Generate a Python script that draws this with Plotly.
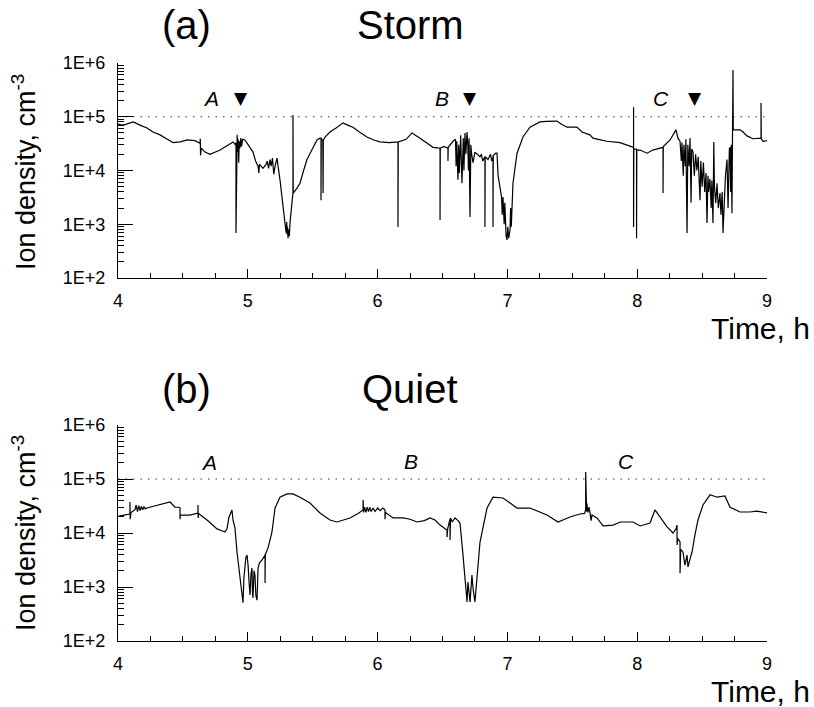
import plotly.graph_objects as go

# ---------------- data ----------------
storm_time = [
    4.000, 4.030, 4.060, 4.116, 4.170, 4.223, 4.270, 4.324, 4.380, 4.424, 4.480, 4.532, 4.593,
    4.632, 4.634, 4.636, 4.642, 4.670, 4.709, 4.750, 4.786, 4.840, 4.886, 4.905,
    4.909, 4.909, 4.912, 4.918, 4.922, 4.926, 4.930, 4.934, 4.940, 4.946, 4.952, 4.960, 4.978,
    5.010, 5.040, 5.060, 5.079, 5.085, 5.090, 5.117, 5.140, 5.150, 5.160, 5.171, 5.180, 5.190, 5.194, 5.200, 5.210, 5.225,
    5.248, 5.271, 5.290, 5.295, 5.300, 5.302, 5.306, 5.310, 5.315, 5.320, 5.325, 5.340,
    5.348, 5.348, 5.350, 5.379, 5.402, 5.430, 5.456, 5.500, 5.533, 5.556, 5.564, 5.564, 5.566, 5.578, 5.580, 5.582, 5.595, 5.633,
    5.680, 5.733, 5.770, 5.810, 5.860, 5.918, 5.970, 6.018, 6.090, 6.157, 6.157, 6.159, 6.220, 6.265, 6.327, 6.380, 6.427,
    6.481, 6.481, 6.483, 6.510, 6.542, 6.542, 6.544, 6.581, 6.600, 6.605, 6.610, 6.619, 6.625, 6.630, 6.640, 6.645, 6.650,
    6.660, 6.665, 6.673, 6.680, 6.689, 6.695, 6.700, 6.705, 6.712, 6.718, 6.725, 6.735,
    6.750, 6.789, 6.800, 6.810, 6.827, 6.827, 6.829, 6.851, 6.870, 6.880, 6.889, 6.889, 6.891, 6.910, 6.920, 6.928, 6.943,
    6.955, 6.960, 6.966, 6.975, 6.980, 6.990, 6.997, 7.003, 7.010, 7.020, 7.025, 7.030, 7.043, 7.074, 7.120, 7.174,
    7.251, 7.300, 7.382, 7.420, 7.459, 7.536, 7.575, 7.636, 7.659, 7.700, 7.767, 7.867, 7.940, 7.968,
    7.972, 7.972, 7.972, 7.974, 7.995, 7.995, 7.997, 8.022, 8.050, 8.076, 8.120, 8.176, 8.199, 8.199, 8.201, 8.253, 8.299, 8.314,
    8.330, 8.340, 8.345, 8.355, 8.360, 8.370, 8.375, 8.384, 8.390, 8.400, 8.407, 8.415, 8.420, 8.430, 8.440, 8.450, 8.460, 8.470, 8.484, 8.490,
    8.500, 8.510, 8.520, 8.530, 8.538, 8.545, 8.550, 8.560, 8.570, 8.575, 8.584, 8.590, 8.595, 8.605, 8.615, 8.625, 8.638, 8.645, 8.655, 8.661,
    8.670, 8.680, 8.692, 8.700, 8.710, 8.715, 8.720, 8.725, 8.730, 8.735, 8.738, 8.740, 8.753, 8.792, 8.815, 8.846, 8.892, 8.931, 8.954, 8.954, 8.956, 8.969, 9.000,
]
storm_density = [
    7.3e4, 7.0e4, 7.2e4, 8.0e4, 7.0e4, 6.2e4, 5.2e4, 4.6e4, 3.8e4, 3.3e4, 3.4e4, 3.7e4, 3.6e4,
    3.2e4, 3.9e4, 1.9e4, 2.6e4, 2.2e4, 2.0e4, 2.2e4, 2.4e4, 2.9e4, 3.4e4, 3.0e4,
    3.3e4, 6.9e2, 3.3e4, 4.6e4, 2.2e4, 3.8e4, 1.4e4, 3.5e4, 2.6e4, 4.0e4, 2.8e4, 3.8e4, 3.7e4,
    2.8e4, 2.2e4, 1.5e4, 1.2e4, 9.0e3, 1.3e4, 1.1e4, 1.3e4, 1.5e4, 1.1e4, 1.6e4, 1.2e4, 1.7e4, 1.0e4, 8.5e3, 1.2e4, 1.7e4,
    6.7e3, 2.1e3, 1.0e3, 7.0e2, 1.1e3, 6.5e2, 9.0e2, 5.5e2, 8.0e2, 6.0e2, 1.05e3, 2.5e3,
    3.8e3, 1.08e5, 3.8e3, 4.7e3, 5.8e3, 1.0e4, 1.6e4, 2.6e4, 3.7e4, 4.0e4, 4.0e4, 2.8e3, 3.9e4, 3.6e4, 3.8e3, 3.7e4, 4.2e4, 5.2e4,
    6.2e4, 7.7e4, 7.0e4, 6.4e4, 5.2e4, 4.2e4, 3.7e4, 3.4e4, 3.3e4, 3.4e4, 8.9e2, 3.4e4, 3.8e4, 5.0e4, 4.0e4, 3.2e4, 2.7e4,
    2.6e4, 1.2e3, 2.6e4, 2.8e4, 2.6e4, 1.5e4, 2.7e4, 3.5e4, 3.8e4, 1.2e4, 3.5e4, 6.7e3, 3.0e4, 9.0e3, 4.5e4, 1.5e4, 5.8e3,
    4.0e4, 1.0e4, 5.0e4, 2.0e4, 5.2e4, 3.0e4, 1.0e4, 4.0e4, 1.36e3, 3.0e4, 2.0e4, 1.4e4,
    2.2e4, 1.8e4, 2.0e4, 1.5e4, 1.8e4, 8.9e2, 1.8e4, 1.6e4, 2.0e4, 1.5e4, 1.8e4, 8.9e2, 1.9e4, 2.1e4, 2.1e4, 8.2e3, 4.3e3,
    3.2e3, 1.5e3, 3.2e3, 1.0e3, 2.5e3, 6.0e2, 5.1e2, 9.0e2, 5.5e2, 7.8e2, 2.0e3, 9.0e2, 5.8e3, 2.1e4, 4.2e4, 6.4e4,
    8.0e4, 8.2e4, 8.3e4, 7.2e4, 6.4e4, 6.4e4, 5.2e4, 4.6e4, 4.0e4, 3.8e4, 3.5e4, 3.3e4, 2.9e4, 2.7e4,
    2.7e4, 1.5e5, 8.9e2, 2.5e4, 2.5e4, 5.5e2, 2.4e4, 2.4e4, 2.2e4, 2.1e4, 2.4e4, 2.6e4, 2.7e4, 3.8e3, 2.8e4, 3.7e4, 5.7e4, 4.0e4,
    3.5e4, 1.5e4, 3.3e4, 8.0e3, 3.0e4, 1.2e4, 3.8e4, 6.9e2, 3.0e4, 1.2e4, 4.0e4, 2.5e3, 2.5e4, 2.2e4, 8.0e3, 2.0e4, 1.0e4, 1.8e4, 2.8e3, 1.5e4,
    5.0e3, 1.4e4, 4.0e3, 9.0e3, 1.05e3, 8.0e3, 4.0e3, 7.0e3, 2.0e3, 6.5e3, 1.05e3, 3.4e4, 5.0e3, 2.5e3, 5.8e3, 2.0e3, 3.8e3, 1.5e3, 4.0e3, 6.9e2,
    3.0e3, 8.0e3, 1.6e4, 2.0e3, 2.5e4, 2.7e4, 4.0e3, 3.0e4, 1.6e3, 3.5e4, 7.4e5, 5.7e4, 5.7e4, 5.7e4, 5.2e4, 4.4e4, 3.9e4, 4.0e4, 4.0e4, 1.8e5, 3.9e4, 3.5e4, 3.6e4,
]

quiet_time = [
    4.000, 4.015, 4.092, 4.092, 4.094, 4.100,
    4.131, 4.140, 4.150, 4.160, 4.170, 4.180, 4.190, 4.200, 4.210, 4.223,
    4.324, 4.401, 4.439, 4.470, 4.478, 4.478, 4.480, 4.555, 4.616, 4.616, 4.618, 4.620,
    4.686, 4.763, 4.800, 4.824, 4.840, 4.855, 4.870, 4.878, 4.886, 4.901,
    4.917, 4.930, 4.940, 4.950, 4.955, 4.963, 4.970, 4.978, 4.985, 4.994, 5.002, 5.010, 5.017,
    5.025, 5.032, 5.036, 5.040, 5.048, 5.055, 5.062, 5.071, 5.079, 5.090, 5.109, 5.133, 5.133, 5.135,
    5.156, 5.186, 5.210, 5.248, 5.302, 5.348, 5.402, 5.479, 5.556, 5.633, 5.687, 5.787, 5.850,
    5.888, 5.888, 5.892, 5.900, 5.910, 5.920, 5.930, 5.940, 5.950, 5.965, 5.980, 6.000, 6.020, 6.040, 6.057, 6.057, 6.060,
    6.119, 6.196, 6.250, 6.304, 6.360, 6.404, 6.442, 6.481, 6.520, 6.535, 6.535, 6.540, 6.558, 6.558, 6.562, 6.575, 6.596, 6.620, 6.635,
    6.658, 6.673, 6.689, 6.696, 6.712, 6.727, 6.735, 6.750, 6.766, 6.789, 6.843, 6.889, 6.966, 7.074, 7.174, 7.240, 7.305, 7.390, 7.482, 7.559,
    7.595, 7.600, 7.603, 7.603, 7.605, 7.610, 7.613, 7.620, 7.630, 7.640, 7.645, 7.652, 7.690, 7.737, 7.814, 7.870, 7.921, 7.968, 8.022, 8.099,
    8.137, 8.176, 8.230, 8.276, 8.300, 8.307, 8.307, 8.312, 8.330, 8.330, 8.335, 8.353, 8.368, 8.384, 8.391, 8.410, 8.422, 8.445, 8.468, 8.507,
    8.561, 8.615, 8.676, 8.715, 8.792, 8.869, 8.923, 9.000,
]
quiet_density = [
    2.0e4, 2.07e4, 2.25e4, 3.75e4, 1.8e4, 2.4e4,
    2.7e4, 3.3e4, 2.5e4, 3.2e4, 2.6e4, 3.1e4, 2.7e4, 3.1e4, 2.8e4, 2.9e4,
    3.3e4, 3.75e4, 3.0e4, 3.0e4, 2.9e4, 1.8e4, 2.15e4, 2.15e4, 2.35e4, 3.3e4, 1.9e4, 2.3e4,
    1.74e4, 1.19e4, 1.1e4, 1.04e4, 1.2e4, 1.98e4, 2.4e4, 2.67e4, 1.74e4, 1.24e4,
    4.4e3, 2.5e3, 1.47e3, 1.0e3, 7.1e2, 5.1e2, 1.5e3, 2.25e3, 3.5e3, 3.9e3, 2.55e3, 1.2e3, 7.1e2,
    1.8e3, 2.25e3, 8.0e2, 6.3e2, 2.0e3, 1.67e3, 7.0e2, 5.7e2, 2.25e3, 2.8e3, 3.16e3, 3.9e3, 1.19e3, 4.0e3,
    5.3e3, 1.04e4, 2.9e4, 4.6e4, 5.3e4, 5.3e4, 4.6e4, 3.6e4, 2.35e4, 1.74e4, 1.6e4, 1.9e4, 2.3e4,
    2.67e4, 4.1e4, 2.4e4, 3.0e4, 2.4e4, 3.0e4, 2.5e4, 3.0e4, 2.5e4, 2.9e4, 2.5e4, 2.9e4, 2.6e4, 2.9e4, 2.7e4, 1.8e4, 2.4e4,
    1.9e4, 1.9e4, 1.8e4, 1.6e4, 1.7e4, 1.9e4, 1.74e4, 1.4e4, 1.2e4, 1.14e4, 8.4e3, 1.2e4, 1.8e4, 7.4e3, 1.9e4, 1.6e4, 1.9e4, 1.7e4, 1.53e4,
    3.9e3, 1.24e3, 5.3e2, 1.24e3, 5.3e2, 1.67e3, 9.6e2, 5.3e2, 1.47e3, 6.8e3, 2.9e4, 4.6e4, 4.45e4, 2.9e4, 2.9e4, 2.5e4, 2.15e4, 1.6e4, 1.98e4, 2.25e4,
    2.3e4, 2.6e4, 2.5e4, 1.35e5, 3.0e4, 2.5e4, 3.5e4, 2.4e4, 3.0e4, 2.2e4, 1.7e4, 2.15e4, 1.9e4, 1.35e4, 1.4e4, 1.6e4, 1.6e4, 1.6e4, 1.35e4, 1.53e4,
    2.67e4, 1.98e4, 1.3e4, 1.0e4, 1.2e4, 1.4e4, 6.0e3, 8.0e3, 6.8e3, 1.8e3, 5.0e3, 4.4e3, 2.55e3, 3.9e3, 2.35e3, 3.5e3, 4.4e3, 9.2e3, 1.74e4, 3.3e4,
    5.1e4, 4.6e4, 4.85e4, 3.0e4, 2.45e4, 2.45e4, 2.55e4, 2.35e4,
]

reference_level = 1e5
x_range = [4, 9]
x_tick_values = [4, 5, 6, 7, 8, 9]
y_tick_values = [1e2, 1e3, 1e4, 1e5, 1e6]
y_tick_labels = ["1E+2", "1E+3", "1E+4", "1E+5", "1E+6"]
y_minor_values = [m * 10 ** k for k in range(2, 6) for m in range(2, 10)]

panel_labels = ["(a)", "(b)"]
panel_titles = ["Storm", "Quiet"]
storm_markers = ["A", "B", "C"]
quiet_markers = ["A", "B", "C"]

# ---------------- figure ----------------
FONT = "Liberation Sans, Arial, sans-serif"
W, H = 814, 707
ML, MR, MT, MB = 118, 47, 63, 66
PW = W - ML - MR
PH = H - MT - MB


def px(x):
    return (x - ML) / PW


def py(y):
    return (H - MB - y) / PH


fig = go.Figure()

for xa, ya, t, n in [("x", "y", storm_time, storm_density), ("x2", "y2", quiet_time, quiet_density)]:
    fig.add_trace(go.Scatter(x=x_range, y=[reference_level, reference_level], mode="lines",
                             line=dict(color="#333333", width=1, dash="1.5px,6px"),
                             xaxis=xa, yaxis=ya, hoverinfo="skip"))
    fig.add_trace(go.Scatter(x=t, y=n, mode="lines", line=dict(color="black", width=1.2),
                             xaxis=xa, yaxis=ya))

top_dom = [py(278), 1.0]
bot_dom = [0.0, py(425)]

xcommon = dict(range=x_range, tickvals=x_tick_values, ticks="inside", ticklen=9, tickwidth=1,
               tickcolor="black", showline=True, linecolor="black", linewidth=1,
               showgrid=False, zeroline=False, tickfont=dict(family=FONT, size=18, color="black"),
               minor=dict(ticks="inside", dtick=0.25, tick0=4, ticklen=5, tickwidth=1, tickcolor="black"),
               ticklabelstandoff=6, domain=[0, 1])
ycommon = dict(type="log", range=[2, 6], tickvals=y_tick_values, ticktext=y_tick_labels,
               ticks="inside", ticklen=15, tickwidth=1, tickcolor="black",
               showline=True, linecolor="black", linewidth=1, showgrid=False, zeroline=False,
               tickfont=dict(family=FONT, size=18, color="black"),
               minor=dict(ticks="inside", tickvals=y_minor_values, ticklen=6, tickwidth=1, tickcolor="black"),
               ticklabelstandoff=8)

fig.update_layout(
    width=W, height=H, autosize=False,
    margin=dict(l=ML, r=MR, t=MT, b=MB, pad=0),
    paper_bgcolor="white", plot_bgcolor="white", showlegend=False,
    xaxis=dict(xcommon, anchor="y"),
    yaxis=dict(ycommon, domain=top_dom, anchor="x"),
    xaxis2=dict(xcommon, anchor="y2"),
    yaxis2=dict(ycommon, domain=bot_dom, anchor="x2"),
)

ann = []
for i, (ty, ylab, ytime) in enumerate([(25, 172, 328), (389, 533, 691)]):
    ann.append(dict(text=panel_labels[i], x=px(186), y=py(ty), xref="paper", yref="paper",
                    showarrow=False, xanchor="center", yanchor="middle",
                    font=dict(family=FONT, size=40, color="black")))
    ann.append(dict(text=panel_titles[i], x=px(410), y=py(ty), xref="paper", yref="paper",
                    showarrow=False, xanchor="center", yanchor="middle",
                    font=dict(family=FONT, size=40, color="black")))
    ann.append(dict(text="Ion density, cm<sup>-3</sup>", x=px(24), y=py(ylab), xref="paper", yref="paper",
                    showarrow=False, xanchor="center", yanchor="middle", textangle=-90,
                    font=dict(family=FONT, size=27, color="black")))
    ann.append(dict(text="Time, h", x=px(812), y=py(ytime), xref="paper", yref="paper",
                    showarrow=False, xanchor="right", yanchor="middle",
                    font=dict(family=FONT, size=30, color="black")))

for lab, lx, tx in zip(storm_markers, [211, 442, 661], [241, 470, 695]):
    ann.append(dict(text="<i>%s</i>" % lab, x=px(lx), y=py(98), xref="paper", yref="paper",
                    showarrow=False, xanchor="center", yanchor="middle",
                    font=dict(family=FONT, size=21, color="black")))
    ann.append(dict(text="▼", x=px(tx), y=py(98), xref="paper", yref="paper",
                    showarrow=False, xanchor="center", yanchor="middle",
                    font=dict(family="DejaVu Sans", size=17, color="black")))
for lab, lx, ly in zip(quiet_markers, [209, 411, 626], [462, 461, 461]):
    ann.append(dict(text="<i>%s</i>" % lab, x=px(lx), y=py(ly), xref="paper", yref="paper",
                    showarrow=False, xanchor="center", yanchor="middle",
                    font=dict(family=FONT, size=21, color="black")))

fig.update_layout(annotations=ann)
fig.write_html("out.html")
